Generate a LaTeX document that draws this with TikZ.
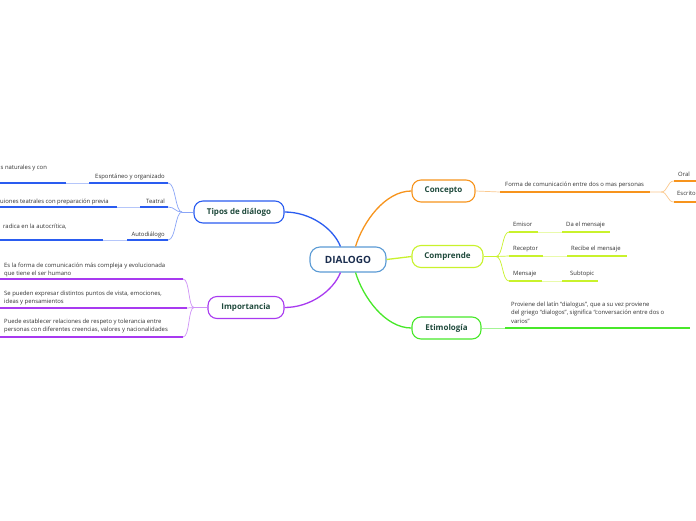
\documentclass[tikz,border=0pt]{standalone}
\usepackage{fontspec}
\setmainfont{Open Sans}
\definecolor{corange}{HTML}{F7941D}
\definecolor{cyellow}{HTML}{C9F22C}
\definecolor{cgreen}{HTML}{48E82A}
\definecolor{cblue}{HTML}{2A5CF0}
\definecolor{cpurple}{HTML}{A83AF0}
\definecolor{croot}{HTML}{5B9BD5}
\definecolor{ttext}{HTML}{1F4A3C}
\definecolor{rtext}{HTML}{1B2E4F}
\definecolor{stext}{HTML}{333333}
\begin{document}
\begin{tikzpicture}[x=1pt,y=-1pt,
 topic/.style={draw, line width=1.1pt, rounded corners=9pt, fill=white, minimum height=22pt, inner sep=0pt, font=\bfseries\fontsize{8}{9.5}\selectfont, text=ttext},
 rootbox/.style={draw=croot, line width=1.1pt, rounded corners=10pt, fill=white, minimum width=76pt, minimum height=25pt, inner sep=0pt, font=\bfseries\fontsize{10}{12}\selectfont, text=rtext},
 subtxt/.style={inner sep=0pt, anchor=base west, font=\fontsize{5.9}{8.5}\selectfont, text=stext},
 subtxtr/.style={subtxt, anchor=base east},
 uline/.style={line width=1.5pt},
 thinl/.style={line width=0.7pt},
 mainl/.style={line width=1.3pt},
]
\useasboundingbox (0,0) rectangle (696,520);
\fill[white] (0,0) rectangle (696,520);

% nodes
\node[rootbox] (root) at (348,259.5) {DIALOGO};
\node[topic, draw=corange, minimum width=63pt] (concepto) at (443.5,191) {Concepto};
\node[topic, draw=cyellow, minimum width=71pt] (comprende) at (447.5,256.5) {Comprende};
\node[topic, draw=cgreen, minimum width=69pt] (etim) at (446.5,328) {Etimología};
\node[topic, draw=cblue, minimum width=90pt] (tipos) at (239,212) {Tipos de diálogo};
\node[topic, draw=cpurple, minimum width=76pt] (imp) at (246,307.5) {Importancia};

% main connectors
\draw[mainl, corange] (root.60) .. controls (363,222) and (385,191) .. (concepto.west);
\draw[mainl, cyellow] (root.east) -- (comprende.west);
\draw[mainl, cgreen] (root.-60) .. controls (363,297) and (385,328) .. (etim.west);
\draw[mainl, cblue] (root.120) .. controls (333,228) and (310,212) .. (tipos.east);
\draw[mainl, cpurple] (root.-120) .. controls (333,291) and (310,307.5) .. (imp.east);

% Concepto branch
\coordinate (c1) at (500,192);
\coordinate (c2) at (650,192);
\coordinate (cf) at (661,192);
\coordinate (o1) at (674,181);
\coordinate (o2) at (696,181);
\coordinate (e1) at (674,202);
\coordinate (e2) at (696,202);
\draw[thinl, corange!50] (concepto.east) -- (c1);
\draw[uline, corange] (c1) -- (c2);
\draw[thinl, corange!50] (c2) -- (cf) .. controls (668,192) and (667,181) .. (o1);
\draw[thinl, corange!50] (cf) .. controls (668,192) and (667,202) .. (e1);
\draw[uline, corange] (o1) -- (o2);
\draw[uline, corange] (e1) -- (e2);
\node[subtxt] (forma) at (505,186) {Forma de comunicación entre dos o mas personas};
\node[subtxt] (oral) at (678,176) {Oral};
\node[subtxt] (escrito) at (677,195) {Escrito};

% Comprende branch
\coordinate (pf) at (496,256.5);
\coordinate (m1a) at (509,232); \coordinate (m1b) at (538,232); \coordinate (m1c) at (562,232); \coordinate (m1d) at (610,232);
\coordinate (m2a) at (509,256); \coordinate (m2b) at (543,256); \coordinate (m2c) at (567,256); \coordinate (m2d) at (627,256);
\coordinate (m3a) at (509,281); \coordinate (m3b) at (542,281); \coordinate (m3c) at (562,281); \coordinate (m3d) at (598,281);
\draw[thinl, cyellow] (comprende.east) -- (pf);
\draw[thinl, cyellow] (pf) .. controls (503,256.5) and (502,232) .. (m1a);
\draw[thinl, cyellow] (pf) -- (m2a);
\draw[thinl, cyellow] (pf) .. controls (503,256.5) and (502,281) .. (m3a);
\draw[uline, cyellow] (m1a) -- (m1b);
\draw[thinl, cyellow!40] (m1b) -- (m1c);
\draw[uline, cyellow] (m1c) -- (m1d);
\draw[uline, cyellow] (m2a) -- (m2b);
\draw[thinl, cyellow!40] (m2b) -- (m2c);
\draw[uline, cyellow] (m2c) -- (m2d);
\draw[uline, cyellow] (m3a) -- (m3b);
\draw[thinl, cyellow!40] (m3b) -- (m3c);
\draw[uline, cyellow] (m3c) -- (m3d);
\node[subtxt] (emisor) at (513,226) {Emisor};
\node[subtxt] (daelm) at (566,226) {Da el mensaje};
\node[subtxt] (receptor) at (513,250) {Receptor};
\node[subtxt] (recibe) at (571,250) {Recibe el mensaje};
\node[subtxt] (mensaje) at (513,275) {Mensaje};
\node[subtxt] (subtopic) at (570,275) {Subtopic};

% Etimologia branch
\coordinate (g1) at (505,328);
\coordinate (g2) at (690,328);
\draw[thinl, cgreen!50] (etim.east) -- (g1);
\draw[uline, cgreen] (g1) -- (g2);
\node[subtxt] (et1) at (511,306) {Proviene del latín “dialogus”, que a su vez proviene};
\node[subtxt] (et2) at (511,314.5) {del griego “dialogos”, significa “conversación entre dos o};
\node[subtxt] (et3) at (511,323) {varios”};

% Tipos branch
\coordinate (tf) at (182,212);
\coordinate (t1a) at (168,183); \coordinate (t1b) at (89,183); \coordinate (t1c) at (66,183); \coordinate (t1d) at (0,183);
\coordinate (t2a) at (168,207); \coordinate (t2b) at (140,207); \coordinate (t2c) at (117,207); \coordinate (t2d) at (0,207);
\coordinate (t3a) at (168,240); \coordinate (t3b) at (127,240); \coordinate (t3c) at (103,240); \coordinate (t3d) at (0,240);
\draw[thinl, cblue!55] (tipos.west) -- (tf);
\draw[thinl, cblue!55] (tf) .. controls (175,212) and (176,183) .. (t1a);
\draw[thinl, cblue!55] (tf) .. controls (175,212) and (175,207) .. (t2a);
\draw[thinl, cblue!55] (tf) .. controls (175,212) and (176,240) .. (t3a);
\draw[uline, cblue] (t1a) -- (t1b);
\draw[thinl, cblue!35] (t1b) -- (t1c);
\draw[uline, cblue] (t1c) -- (t1d);
\draw[uline, cblue] (t2a) -- (t2b);
\draw[thinl, cblue!35] (t2b) -- (t2c);
\draw[uline, cblue] (t2c) -- (t2d);
\draw[uline, cblue] (t3a) -- (t3b);
\draw[thinl, cblue!35] (t3b) -- (t3c);
\draw[uline, cblue] (t3c) -- (t3d);
\node[subtxtr] (espont) at (165,178) {Espontáneo y organizado};
\node[subtxtr] (teatral) at (165,203) {Teatral};
\node[subtxtr] (autod) at (165,236) {Autodiálogo};
\node[subtxt] (espontd) at (0.5,169) {s naturales y con};
\node[subtxt] (teatrald) at (0,203) {uiones teatrales con preparación previa};
\node[subtxt] (autodd) at (3,228) {radica en la autocrítica,};

% Importancia branch
\coordinate (if) at (194,307.5);
\coordinate (i1a) at (183,279); \coordinate (i1b) at (0,279);
\coordinate (i2a) at (187,308); \coordinate (i2b) at (0,308);
\coordinate (i3a) at (183,337); \coordinate (i3b) at (0,337);
\draw[thinl, cpurple!55] (imp.west) -- (if);
\draw[thinl, cpurple!55] (if) .. controls (188,307.5) and (190,279) .. (i1a);
\draw[thinl, cpurple!55] (if) -- (i2a);
\draw[thinl, cpurple!55] (if) .. controls (188,307.5) and (190,337) .. (i3a);
\draw[uline, cpurple] (i1a) -- (i1b);
\draw[uline, cpurple] (i2a) -- (i2b);
\draw[uline, cpurple] (i3a) -- (i3b);
\node[subtxt] (im1a) at (4,267) {Es la forma de comunicación más compleja y evolucionada};
\node[subtxt] (im1b) at (4,275.5) {que tiene el ser humano};
\node[subtxt] (im2a) at (4,295) {Se pueden expresar distintos puntos de vista, emociones,};
\node[subtxt] (im2b) at (4,303.5) {ideas y pensamientos};
\node[subtxt] (im3a) at (4,323) {Puede establecer relaciones de respeto y tolerancia entre};
\node[subtxt] (im3b) at (4,331.5) {personas con diferentes creencias, valores y nacionalidades};
\end{tikzpicture}
\end{document}
